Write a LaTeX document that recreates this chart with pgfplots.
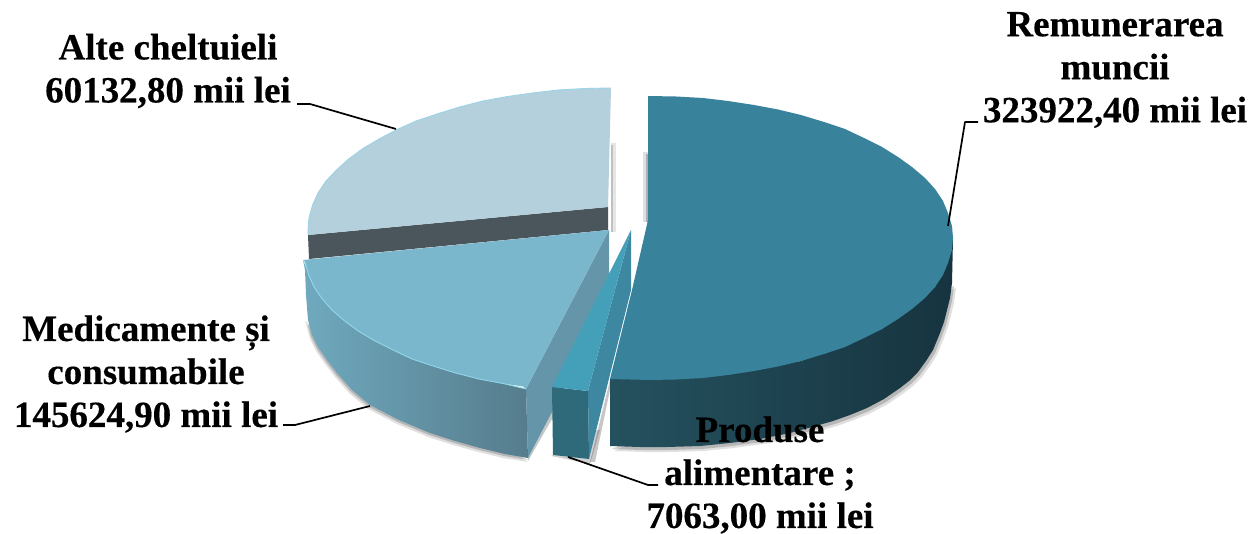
\documentclass[border=0pt]{standalone}
\usepackage{pgfplots}
\pgfplotsset{compat=1.18}
\usepackage{fontspec}
\setmainfont[BoldFeatures={FakeBold=0.3}]{Liberation Serif}
\definecolor{bigtop}{HTML}{38829C}
\definecolor{bigsideL}{HTML}{25515F}
\definecolor{bigsideM}{HTML}{16343F}
\definecolor{alte}{HTML}{B3D0DC}
\definecolor{band}{HTML}{4A555C}
\definecolor{med}{HTML}{7AB7CD}
\definecolor{medrim}{HTML}{92D6EA}
\definecolor{medL}{HTML}{70A9BE}
\definecolor{medR}{HTML}{557C8C}
\definecolor{medface}{HTML}{6595A8}
\definecolor{smalltop}{HTML}{44A0B9}
\definecolor{smallface}{HTML}{3D88A0}
\definecolor{smallfront}{HTML}{2E6A7A}
\tikzset{lab/.style={font=\fontsize{37}{43}\selectfont\bfseries, align=center, inner sep=0pt, text=black}}
\begin{document}
\begin{tikzpicture}
\begin{axis}[
  scale only axis, width=1253pt, height=534pt,
  xmin=0, xmax=1253, ymin=0, ymax=534, y dir=reverse,
  hide axis, clip=true,
  every axis plot/.append style={no markers, line join=round},
]
% page extent
\addplot[draw=none, fill=white] coordinates {(0,0)(1253,0)(1253,534)(0,534)} -- cycle;
% soft shadows
\addplot[draw=none, fill=black, fill opacity=0.10] coordinates {(611,143)(616,143)(616,232)(611,232)} -- cycle;
\addplot[draw=none, fill=black, fill opacity=0.16] coordinates {(611,145)(613,145)(613,232)(611,232)} -- cycle;
\addplot[draw=none, fill=black, fill opacity=0.12] coordinates {(648,152)(643,152)(643,222)(648,222)} -- cycle;
\addplot[draw=none, fill=black, fill opacity=0.22] coordinates {(648,154)(646,154)(646,222)(648,222)} -- cycle;
% shadow below Medicamente
\addplot[draw=none, fill=black, fill opacity=0.12] coordinates {(303,322)(306,324)(310,339)(316,351)(325,364)(335,377)(350,394)(368,409)(397,424)(428,437)(453,445)(478,452)(503,458)(528,462)} -- cycle;
\addplot[draw=none, fill=black, fill opacity=0.18] coordinates {(305,322)(307,322)(311,337)(317,349)(326,362)(336,375)(351,392)(369,407)(398,422)(429,435)(454,443)(479,450)(504,456)(528,460)} -- cycle;
\addplot[draw=none, fill=black, fill opacity=0.22] coordinates {(528,461)(556,412)(552,412)(528,458)} -- cycle;
\addplot[draw=none, fill=black, fill opacity=0.18] coordinates {(551,456)(590,464)(600,430)(590,430)} -- cycle;
\addplot[draw=none, fill=black, fill opacity=0.22] coordinates {(590,462)(610,380)(612,380)(595,462)} -- cycle;
% shadow below Remunerarea
\addplot[draw=none, fill=black, fill opacity=0.12] coordinates {(956,288)(954,303)(951,315)(948,327)(944,338)(937,355)(930,366)(922,377)(913,386)(904,393)(888,404)(871,413)(854,420)(837,426)(816,432)(794,438)(764,444)(734,448)(704,451)(671,452)(644,452)(614,451)} -- cycle;
\addplot[draw=none, fill=black, fill opacity=0.18] coordinates {(954,286)(952,301)(949,313)(946,325)(942,336)(935,353)(928,364)(920,375)(911,384)(902,391)(886,402)(869,411)(852,418)(835,424)(814,430)(792,436)(762,442)(732,446)(702,449)(669,450)(642,450)(612,449)} -- cycle;
% Remunerarea muncii: side
\addplot[draw=none, left color=bigsideL, middle color=bigsideM, right color=bigsideM] coordinates {
 (953,238)(952,283)(950,298)(947,310)(944,322)(940,333)(933,350)(926,361)(918,372)(909,381)(900,388)(884,399)(867,408)(850,415)(833,421)(812,427)(790,433)(760,439)(730,443)(700,446)(667,447)(640,447)(610,446)(610,378)(700,378)(801,361)(882,329)(935,287)} -- cycle;
% Remunerarea muncii: top
\addplot[draw=none, fill=bigtop] coordinates {
 (648,96)(676,96.5)(703,98)(728,101)(754,105)(778,109.5)(801,115)(824,122)(845,129)(864,138)(882,147)(898,157)(912,167)(925,178)(935,189)(943,201)(948,213)(952,226)(953,238)(952,250)(948,263)(943,275)(935,287)(925,298)(912,309)(898,319)(882,329)(864,338)(845,347)(824,354)(801,361)(778,366.5)(754,371)(728,375)(703,378)(676,379.5)(650,380)(610,379)(632,290)(648,220)} -- cycle;
% Alte cheltuieli
\addplot[draw=none, fill=band] coordinates {(308,235)(608,207)(608,230)(309,259)} -- cycle;
\addplot[draw=none, fill=alte] coordinates {
 (611,88)(585,88.5)(558,90)(532.6,93)(507,96.6)(483,101)(459.5,107)(437,114)(416,121)(397,129.6)(379,139)(363,148.5)(348.6,159)(336.5,170)(326,181)(318,193)(312.6,205)(309,218)(308,230)(308,235)(608,207)} -- cycle;
\addplot[medrim!70!alte, line width=0.9pt] coordinates {(611,88)(585,88.5)(558,90)(532.6,93)(507,96.6)(483,101)(459.5,107)(437,114)(416,121)(397,129.6)(379,139)(363,148.5)(348.6,159)(336.5,170)(326,181)(318,193)(312.6,205)(309,218)(308,230)(308,235)};
% Medicamente: faces
\addplot[draw=none, fill=medface] coordinates {(609,230)(526,389)(528,458)(609,303)} -- cycle;
\addplot[draw=none, left color=medL, right color=medR] coordinates {
 (303,260)(305,270)(306,295)(308,320)(312,335)(318,347)(327,360)(337,373)(352,390)(370,405)(399,420)(430,433)(455,441)(480,448)(505,454)(528,458)(526,389)(433,366)(344.6,321)(314,287)} -- cycle;
\addplot[draw=none, fill=med] coordinates {
 (303,260)(609,230)(526,389)(523,386.5)(503,383.5)(479,379)(455.5,373)(433,366)(412,359)(393,350)(375,341)(359,331.5)(344.6,321)(332,310)(322,298.6)(314,287)(308.6,274.7)(305,262)} -- cycle;
\addplot[medrim, line width=0.9pt] coordinates {(304,262)(305,262)(308.6,274.7)(314,287)(322,298.6)(332,310)(344.6,321)(359,331.5)(375,341)(393,350)(412,359)(433,366)(455.5,373)(479,379)(503,383.5)(526,389)};
% Produse alimentare: faces
\addplot[draw=none, fill=smallface] coordinates {(631,230)(588,391)(589,459)(631,290)} -- cycle;
\addplot[draw=none, fill=smallfront] coordinates {(552,387)(588,391)(589,459)(553,455)} -- cycle;
\addplot[draw=none, fill=smalltop] coordinates {(631,230)(552,387)(588,391)} -- cycle;
% leader lines
\addplot[black, line width=1.7pt] coordinates {(297,104)(310,104)(396,129)};
\addplot[black, line width=1.7pt] coordinates {(283,425)(295,425)(370,406)};
\addplot[black, line width=1.7pt] coordinates {(568,457)(648,485)(658,485)};
\addplot[black, line width=1.7pt] coordinates {(948,226)(965,122)(978,122)};
% labels
\node[lab] at (axis cs:1115,70) {Remunerarea\\muncii\\323922,40 mii lei};
\node[lab] at (axis cs:168,71) {Alte cheltuieli\\60132,80 mii lei};
\node[lab] at (axis cs:146,374) {Medicamente și\\consumabile\\145624,90 mii lei};
\node[lab] at (axis cs:760,475) {Produse\\alimentare ;\\7063,00 mii lei};
\end{axis}
\end{tikzpicture}
\end{document}
